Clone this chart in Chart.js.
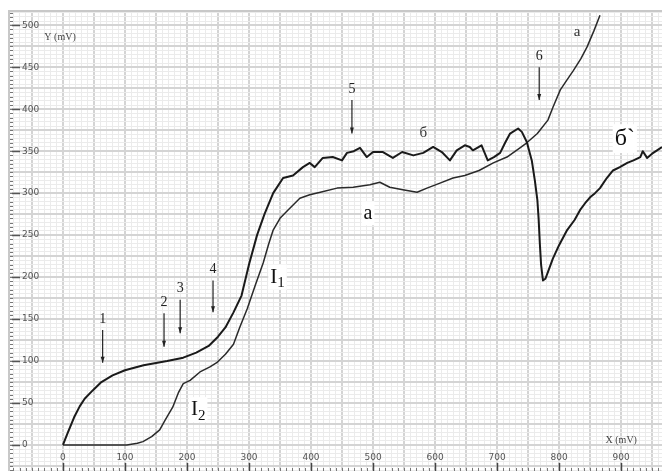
<!DOCTYPE html>
<html>
<head>
<meta charset="utf-8">
<script src="https://cdn.jsdelivr.net/npm/chart.js@4/dist/chart.umd.min.js"></script>
<style>
  html, body { margin: 0; padding: 0; background: #fff; }
  #c { display: block; }
</style>
</head>
<body>
<canvas id="c" width="662" height="471"></canvas>
<script>
// curve "б" (I1): rises first, plateau ~350, sharp drop near 770 mV
const bX = [0, 8, 18, 27, 35, 48, 62, 80, 100, 130, 168, 194, 215, 235, 250, 262, 275, 288, 300, 313, 325, 339, 355, 371, 387, 398, 406, 419, 435, 450, 458, 469, 479, 490, 500, 516, 532, 547, 565, 581, 597, 611, 624, 635, 648, 656, 661, 675, 685, 695, 705, 713, 721, 734, 740, 748, 756, 761, 765, 767, 769, 771, 774, 778, 782, 790, 800, 813, 825, 834, 842, 850, 858, 866, 877, 887, 898, 910, 920, 931, 935, 942, 950, 958, 966];
const bY = [0, 15, 33, 46, 55, 65, 75, 83, 89, 95, 100, 104, 110, 118, 129, 140, 158, 178, 215, 250, 275, 300, 318, 321, 331, 336, 331, 342, 343, 339, 348, 350, 354, 343, 349, 349, 342, 349, 345, 348, 355, 349, 339, 351, 357, 355, 351, 357, 339, 343, 348, 360, 371, 377, 373, 361, 339, 315, 292, 270, 240, 215, 196, 198, 206, 222, 238, 256, 268, 280, 288, 295, 300, 306, 318, 327, 331, 336, 339, 343, 350, 342, 347, 351, 355];

// curve "a" (I2): starts late, plateau ~300, then rises exponentially
const aX = [0, 50, 103, 120, 129, 143, 156, 165, 177, 186, 194, 205, 221, 237, 248, 262, 275, 285, 297, 310, 323, 332, 339, 350, 363, 382, 398, 415, 442, 468, 495, 511, 527, 548, 571, 587, 608, 629, 648, 671, 694, 716, 737, 748, 765, 782, 790, 802, 812, 823, 835, 845, 856, 866];
const aY = [0, 0, 0, 2, 4, 10, 18, 30, 45, 62, 73, 77, 87, 93, 98, 108, 120, 140, 162, 190, 217, 240, 256, 270, 280, 294, 298, 301, 306, 307, 310, 313, 307, 304, 301, 306, 312, 318, 321, 327, 336, 343, 354, 360, 371, 387, 402, 423, 434, 446, 460, 474, 493, 512];

const xTicks = [0, 100, 200, 300, 400, 500, 600, 700, 800, 900];
const yTicks = [0, 50, 100, 150, 200, 250, 300, 350, 400, 450, 500];

// numbered arrows: x, top of arrow, tip of arrow
const markLabels = ["1", "2", "3", "4", "5", "6"];
const markX = [64, 163, 189, 242, 466, 768];
const markTop = [137, 157, 173, 196, 411, 450];
const markTip = [98, 117, 133, 158, 371, 411];

const toXY = (xs, ys) => xs.map((x, i) => ({ x, y: ys[i] }));

const serif = "'Liberation Serif', 'DejaVu Serif', serif";

const paperPlugin = {
  id: "paper",
  beforeDraw(chart) {
    const { ctx, width, height } = chart;
    ctx.save();
    ctx.fillStyle = "#fff";
    ctx.fillRect(0, 0, width, height);
    ctx.restore();
  },
  afterDraw(chart) {
    const { ctx, chartArea } = chart;
    const xs = chart.scales.x, ys = chart.scales.y;
    ctx.save();

    // frame
    ctx.strokeStyle = "#c8c8c8";
    ctx.lineWidth = 2;
    ctx.beginPath();
    ctx.moveTo(chartArea.left, chartArea.bottom);
    ctx.lineTo(chartArea.left, chartArea.top);
    ctx.lineTo(chartArea.right, chartArea.top);
    ctx.stroke();

    // left ruler
    ctx.strokeStyle = "#777";
    ctx.lineWidth = 1;
    for (let v = -30; v <= 515; v += 5) {
      const py = Math.round(ys.getPixelForValue(v)) + 0.5;
      ctx.beginPath();
      ctx.moveTo(chartArea.left + 1, py);
      ctx.lineTo(chartArea.left + 4, py);
      ctx.stroke();
    }
    ctx.strokeStyle = "#555";
    ctx.lineWidth = 1.5;
    yTicks.forEach(v => {
      const py = Math.round(ys.getPixelForValue(v)) + 0.5;
      ctx.beginPath();
      ctx.moveTo(chartArea.left + 3, py);
      ctx.lineTo(chartArea.left + 11, py);
      ctx.stroke();
    });

    // bottom ruler
    ctx.strokeStyle = "#777";
    ctx.lineWidth = 1;
    for (let v = -80; v <= 960; v += 10) {
      const px = Math.round(xs.getPixelForValue(v)) + 0.5;
      ctx.beginPath();
      ctx.moveTo(px, chartArea.bottom - 3);
      ctx.lineTo(px, chartArea.bottom);
      ctx.stroke();
    }
    ctx.strokeStyle = "#444";
    ctx.lineWidth = 1.5;
    xTicks.forEach(v => {
      const px = Math.round(xs.getPixelForValue(v)) + 0.5;
      ctx.beginPath();
      ctx.moveTo(px, chartArea.bottom - 8);
      ctx.lineTo(px, chartArea.bottom);
      ctx.stroke();
    });

    // tick labels
    ctx.fillStyle = "#555";
    ctx.font = "9px 'DejaVu Sans', sans-serif";
    ctx.textBaseline = "middle";
    ctx.textAlign = "left";
    yTicks.forEach(v => ctx.fillText(String(v), chartArea.left + 13, ys.getPixelForValue(v)));
    ctx.textAlign = "center";
    xTicks.forEach(v => ctx.fillText(String(v), xs.getPixelForValue(v), chartArea.bottom - 13));

    // axis titles
    ctx.font = "10px " + serif;
    ctx.fillStyle = "#444";
    ctx.textAlign = "left";
    ctx.fillText("Y (mV)", xs.getPixelForValue(-30), ys.getPixelForValue(485));
    ctx.fillText("X (mV)", xs.getPixelForValue(875), ys.getPixelForValue(5));

    // numbered arrows
    ctx.strokeStyle = "#222";
    ctx.fillStyle = "#222";
    ctx.lineWidth = 1.2;
    ctx.font = "14px " + serif;
    ctx.textAlign = "center";
    markLabels.forEach((t, i) => {
      const px = xs.getPixelForValue(markX[i]);
      const top = ys.getPixelForValue(markTop[i]);
      const tip = ys.getPixelForValue(markTip[i]);
      ctx.beginPath();
      ctx.moveTo(px, top);
      ctx.lineTo(px, tip);
      ctx.stroke();
      ctx.beginPath();
      ctx.moveTo(px - 2, tip - 6);
      ctx.lineTo(px + 2, tip - 6);
      ctx.lineTo(px, tip);
      ctx.closePath();
      ctx.fill();
      ctx.fillText(t, px, top - 11);
    });

    // curve labels
    const label = (txt, x, y, size, sub) => {
      const px = xs.getPixelForValue(x), py = ys.getPixelForValue(y);
      ctx.font = size + "px " + serif;
      const w = ctx.measureText(txt).width;
      let sw = 0;
      if (sub) { ctx.font = Math.round(size * 0.7) + "px " + serif; sw = ctx.measureText(sub).width; }
      ctx.fillStyle = "#fff";
      ctx.fillRect(px - (w + sw) / 2 - 2, py - size * 0.6, w + sw + 4, size * 1.2);
      ctx.fillStyle = "#111";
      ctx.font = size + "px " + serif;
      ctx.textAlign = "left";
      ctx.fillText(txt, px - (w + sw) / 2, py);
      if (sub) {
        ctx.font = Math.round(size * 0.7) + "px " + serif;
        ctx.fillText(sub, px - (w + sw) / 2 + w, py + size * 0.3);
      }
    };
    label("I", 346, 200, 21, "1");
    label("I", 218, 42, 21, "2");
    label("a", 492, 276, 20);
    label("б`", 906, 365, 24);
    ctx.fillStyle = "#333";
    ctx.font = "15px " + serif;
    ctx.textAlign = "center";
    ctx.fillText("б", xs.getPixelForValue(581), ys.getPixelForValue(371));
    ctx.fillText("a", xs.getPixelForValue(829), ys.getPixelForValue(492));

    ctx.restore();
  }
};

const majorMinor = (step, color, minorColor, w, mw) => ({
  drawTicks: false,
  color: c => (c.tick && c.tick.value % step === 0 ? color : minorColor),
  lineWidth: c => (c.tick && c.tick.value % step === 0 ? w : mw)
});

new Chart(document.getElementById("c"), {
  type: "scatter",
  data: {
    datasets: [
      { label: "б", data: toXY(bX, bY), showLine: true, borderColor: "#1a1a1a", borderWidth: 2, pointRadius: 0, tension: 0, borderJoinStyle: "round" },
      { label: "a", data: toXY(aX, aY), showLine: true, borderColor: "#2a2a2a", borderWidth: 1.5, pointRadius: 0, tension: 0, borderJoinStyle: "round" }
    ]
  },
  options: {
    responsive: false,
    animation: false,
    layout: { padding: { left: 9, top: 11, right: 0, bottom: 0 } },
    plugins: { legend: { display: false }, tooltip: { enabled: false } },
    scales: {
      x: {
        type: "linear",
        min: -87, max: 966,
        border: { display: false },
        ticks: { display: false, stepSize: 10, includeBounds: false },
        grid: majorMinor(50, "#d4d4d4", "#ebebeb", 2, 1)
      },
      y: {
        type: "linear",
        min: -31, max: 517,
        border: { display: false },
        ticks: { display: false, stepSize: 5, includeBounds: false },
        grid: majorMinor(25, "#d4d4d4", "#ebebeb", 2, 1)
      }
    }
  },
  plugins: [paperPlugin]
});
</script>
</body>
</html>
